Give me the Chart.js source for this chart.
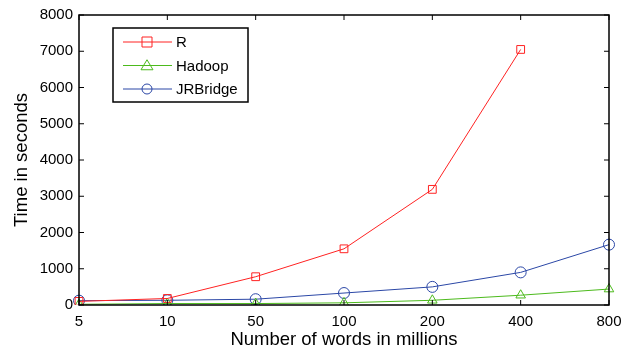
<!DOCTYPE html>
<html>
<head>
<meta charset="utf-8">
<script src="https://cdn.jsdelivr.net/npm/chart.js@4/dist/chart.umd.min.js"></script>
<style>
  html, body { margin: 0; padding: 0; background: #fff; }
  #wrap { width: 631px; height: 351px; }
</style>
</head>
<body>
<div id="wrap"><canvas id="timeChart" width="631" height="351"></canvas></div>
<script>
// values (seconds)
const wordCounts = ['5', '10', '50', '100', '200', '400', '800'];
const rTimes = [100, 180, 780, 1550, 3190, 7050, null];
const hadoopTimes = [20, 40, 40, 60, 130, 270, 440];
const jrbridgeTimes = [120, 130, 160, 330, 500, 900, 1665];
const yTicks = [0, 1000, 2000, 3000, 4000, 5000, 6000, 7000, 8000];

const FONT = '"Liberation Sans", Arial, sans-serif';

// markers drawn by hand so the legend looks like the matlab one
function drawMarker(ctx, style, x, y, r) {
    ctx.beginPath();
    if (style === 'rect') {
        ctx.rect(x - r, y - r, r * 2, r * 2);
    } else if (style === 'triangle') {
        ctx.moveTo(x, y - r * 1.15);
        ctx.lineTo(x + r * 1.2, y + r * 0.85);
        ctx.lineTo(x - r * 1.2, y + r * 0.85);
        ctx.closePath();
    } else {
        ctx.arc(x, y, r, 0, Math.PI * 2);
    }
    ctx.stroke();
}

// box around the plot with inward ticks, plus the legend box
const frame = {
    id: 'frame',
    afterDatasetsDraw(chart) {
        const ctx = chart.ctx;
        const a = chart.chartArea;
        const xs = chart.scales.x;
        const ys = chart.scales.y;
        ctx.save();
        ctx.strokeStyle = '#000';
        ctx.lineWidth = 1.5;
        ctx.strokeRect(a.left, a.top, a.right - a.left, a.bottom - a.top);
        ctx.lineWidth = 1;
        const t = 5;
        for (let i = 0; i < wordCounts.length; i++) {
            const px = xs.getPixelForValue(i);
            ctx.beginPath();
            ctx.moveTo(px, a.bottom); ctx.lineTo(px, a.bottom - t);
            ctx.moveTo(px, a.top); ctx.lineTo(px, a.top + t);
            ctx.stroke();
        }
        yTicks.forEach(v => {
            const py = ys.getPixelForValue(v);
            ctx.beginPath();
            ctx.moveTo(a.left, py); ctx.lineTo(a.left + t, py);
            ctx.moveTo(a.right, py); ctx.lineTo(a.right - t, py);
            ctx.stroke();
        });

        // legend
        const lx = 113, ly = 28, lw = 135, lh = 74;
        ctx.fillStyle = '#fff';
        ctx.fillRect(lx, ly, lw, lh);
        ctx.lineWidth = 1.5;
        ctx.strokeStyle = '#000';
        ctx.strokeRect(lx, ly, lw, lh);
        chart.data.datasets.forEach((ds, i) => {
            const y = ly + 14 + i * 23.5;
            ctx.strokeStyle = ds.borderColor;
            ctx.lineWidth = 1;
            ctx.beginPath();
            ctx.moveTo(lx + 10, y); ctx.lineTo(lx + 59, y);
            ctx.stroke();
            drawMarker(ctx, ds.pointStyle, lx + 34, y, 5);
            ctx.fillStyle = '#000';
            ctx.font = '15px ' + FONT;
            ctx.textBaseline = 'middle';
            ctx.textAlign = 'left';
            ctx.fillText(ds.label, lx + 63, y + 1);
        });
        ctx.restore();
    }
};

function makeSet(label, data, color, style) {
    return {
        label: label,
        data: data,
        borderColor: color,
        backgroundColor: 'rgba(0,0,0,0)',
        pointBackgroundColor: 'rgba(0,0,0,0)',
        pointBorderColor: color,
        pointStyle: style,
        pointRadius: 5.5,
        pointBorderWidth: 1,
        borderWidth: 1,
        tension: 0,
        fill: false,
        spanGaps: false
    };
}

new Chart(document.getElementById('timeChart'), {
    type: 'line',
    data: {
        labels: wordCounts,
        datasets: [
            makeSet('R', rTimes, '#ff2222', 'rect'),
            makeSet('Hadoop', hadoopTimes, '#4cba1c', 'triangle'),
            makeSet('JRBridge', jrbridgeTimes, '#2b47a6', 'circle')
        ]
    },
    options: {
        responsive: false,
        animation: false,
        devicePixelRatio: 1,
        layout: { padding: { top: 15, right: 22, left: 0, bottom: 0 } },
        plugins: {
            legend: { display: false },
            tooltip: { enabled: false }
        },
        scales: {
            x: {
                type: 'category',
                offset: false,
                grid: { display: false, drawTicks: false },
                border: { display: false },
                ticks: { color: '#000', font: { family: FONT, size: 15 }, padding: 8, maxRotation: 0, autoSkip: false },
                title: { display: true, text: 'Number of words in millions', color: '#000',
                         font: { family: FONT, size: 18.5 }, padding: { top: 3, bottom: 0 } },
                afterFit(scale) { scale.height = 46; }
            },
            y: {
                min: 0,
                max: 8000,
                grid: { display: false, drawTicks: false },
                border: { display: false },
                ticks: { stepSize: 1000, color: '#000', font: { family: FONT, size: 15 }, padding: 6,
                         callback: v => String(v) },
                title: { display: true, text: 'Time in seconds', color: '#000',
                         font: { family: FONT, size: 18.5 }, padding: { top: 11, bottom: 0 } },
                afterFit(scale) { scale.width = 79; }
            }
        }
    },
    plugins: [frame]
});
</script>
</body>
</html>
